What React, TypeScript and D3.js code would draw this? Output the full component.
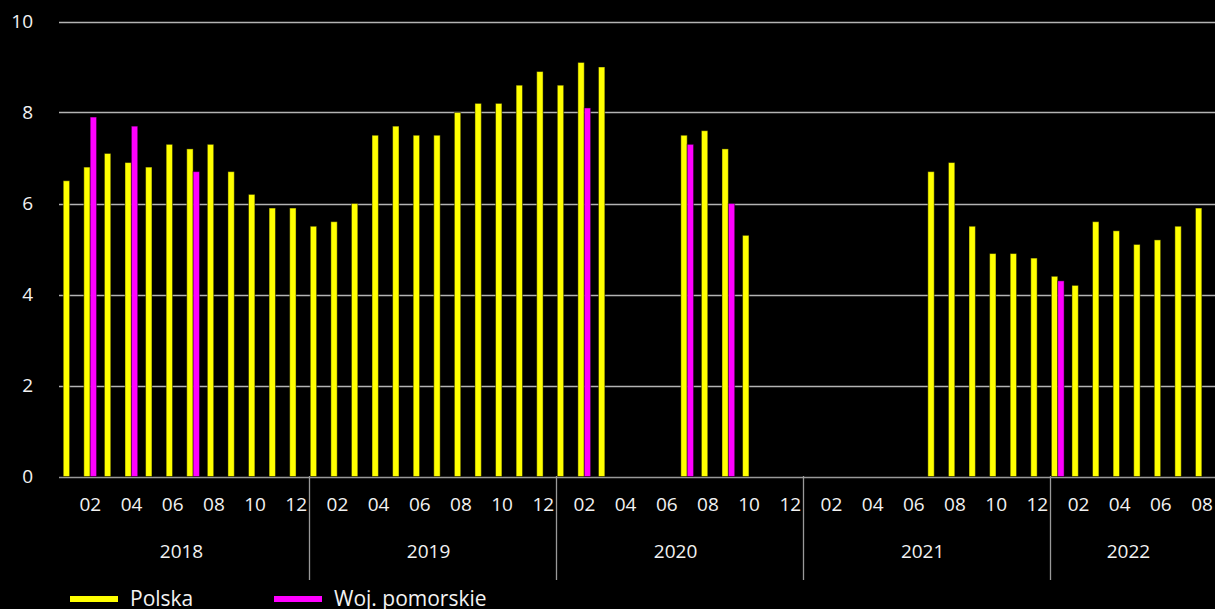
import React, { useEffect, useRef } from "react";
import * as d3 from "d3";

// months 2018-01 .. 2022-08
const years = ["2018", "2019", "2020", "2021", "2022"];
const monthLabels = ["01", "02", "03", "04", "05", "06", "07", "08", "09", "10", "11", "12"];

const polska: (number | null)[] = [
  6.5, 6.8, 7.1, 6.9, 6.8, 7.3, 7.2, 7.3, 6.7, 6.2, 5.9, 5.9,
  5.5, 5.6, 6.0, 7.5, 7.7, 7.5, 7.5, 8.0, 8.2, 8.2, 8.6, 8.9,
  8.6, 9.1, 9.0, null, null, null, 7.5, 7.6, 7.2, 5.3, null, null,
  null, null, null, null, null, null, 6.7, 6.9, 5.5, 4.9, 4.9, 4.8,
  4.4, 4.2, 5.6, 5.4, 5.1, 5.2, 5.5, 5.9,
];

const pomorskie: (number | null)[] = [
  null, 7.9, null, 7.7, null, null, 6.7, null, null, null, null, null,
  null, null, null, null, null, null, null, null, null, null, null, null,
  null, 8.1, null, null, null, null, 7.3, null, 6.0, null, null, null,
  null, null, null, null, null, null, null, null, null, null, null, null,
  4.3, null, null, null, null, null, null, null,
];

const yTicks = [0, 2, 4, 6, 8, 10];
const seriesNames = ["Polska", "Woj. pomorskie"];
const seriesColors = ["#ffff00", "#ff00ff"];

const W = 1215;
const H = 609;
const FONT = "'Open Sans', 'Noto Sans', sans-serif";

export default function App() {
  const ref = useRef<SVGSVGElement>(null);

  useEffect(() => {
    const svg = d3.select(ref.current);
    svg.selectAll("*").remove();

    const keys = polska.map((_, i) => `${years[Math.floor(i / 12)]}-${monthLabels[i % 12]}`);

    const x0 = d3.scaleBand().domain(keys).range([62.5, 62.5 + 56 * 20.586]).padding(0);
    const x1 = d3.scaleBand().domain(["a", "b", "c"]).range([0, x0.bandwidth()]).paddingInner(0).paddingOuter(0.115);
    const y = d3.scaleLinear().domain([0, 10]).range([476.5, 21.5]);

    svg.append("rect").attr("width", W).attr("height", H).attr("fill", "#000");

    // grid
    svg.append("g")
      .selectAll("line")
      .data(yTicks)
      .join("line")
      .attr("x1", 59)
      .attr("x2", W)
      .attr("y1", (d) => Math.round(y(d)) + 0.5)
      .attr("y2", (d) => Math.round(y(d)) + 0.5)
      .attr("stroke", (d) => (d === 0 ? "#999" : "#b4b4b4"))
      .attr("stroke-width", 1.3);

    svg.append("g")
      .selectAll("text")
      .data(yTicks)
      .join("text")
      .attr("x", 33)
      .attr("y", (d) => y(d))
      .attr("dy", "0.36em")
      .attr("text-anchor", "end")
      .attr("fill", "#f2f2f2")
      .style("font", `19px ${FONT}`)
      .text((d) => d);

    // bars
    const series = [polska, pomorskie];
    series.forEach((vals, si) => {
      svg.append("g")
        .selectAll("rect")
        .data(vals.map((v, i) => ({ v, k: keys[i] })).filter((d) => d.v !== null))
        .join("rect")
        .attr("x", (d) => (x0(d.k) as number) + (x1(si === 0 ? "a" : "b") as number))
        .attr("width", x1.bandwidth())
        .attr("y", (d) => y(d.v as number))
        .attr("height", (d) => y(0) - y(d.v as number))
        .attr("fill", seriesColors[si])
        .attr("stroke", "rgba(0,0,0,0.45)")
        .attr("stroke-width", 1);
    });

    // month labels
    svg.append("g")
      .selectAll("text")
      .data(keys.filter((_, i) => i % 2 === 1))
      .join("text")
      .attr("x", (d) => (x0(d) as number) + x0.bandwidth() / 2 - 3)
      .attr("y", 511)
      .attr("text-anchor", "middle")
      .attr("fill", "#f2f2f2")
      .style("font", `19px ${FONT}`)
      .text((d) => d.slice(5));

    // year separators
    svg.append("g")
      .selectAll("line")
      .data([12, 24, 36, 48])
      .join("line")
      .attr("x1", (i) => Math.round(x0(keys[i]) as number) - 0.5)
      .attr("x2", (i) => Math.round(x0(keys[i]) as number) - 0.5)
      .attr("y1", 476)
      .attr("y2", 580)
      .attr("stroke", "#999")
      .attr("stroke-width", 1.3);

    // year labels
    svg.append("g")
      .selectAll("text")
      .data(years)
      .join("text")
      .attr("x", (yr, i) => {
        const first = x0(keys[i * 12]) as number;
        const last = Math.min(i * 12 + 11, keys.length - 1);
        const end = (x0(keys[last]) as number) + x0.bandwidth();
        return (first + end) / 2 - 4.5;
      })
      .attr("y", 558)
      .attr("text-anchor", "middle")
      .attr("fill", "#f2f2f2")
      .style("font", `19px ${FONT}`)
      .text((d) => d);

    // legend
    const legX = [70, 274];
    seriesNames.forEach((name, i) => {
      svg.append("line")
        .attr("x1", legX[i])
        .attr("x2", legX[i] + 48)
        .attr("y1", 599)
        .attr("y2", 599)
        .attr("stroke", seriesColors[i])
        .attr("stroke-width", 6);
      svg.append("text")
        .attr("x", legX[i] + 60)
        .attr("y", 606)
        .attr("fill", "#f2f2f2")
        .style("font", `21px ${FONT}`)
        .text(name);
    });
  }, []);

  return (
    <div style={{ position: "absolute", left: 0, top: 0, width: W, height: H, background: "#000" }}>
      <svg ref={ref} width={W} height={H} style={{ display: "block" }} />
    </div>
  );
}
